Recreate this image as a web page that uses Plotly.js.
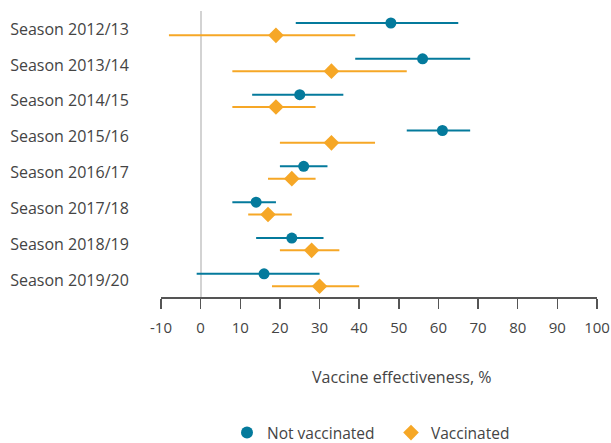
<!DOCTYPE html>
<html>
<head>
<meta charset="utf-8">
<script src="https://cdn.plot.ly/plotly-3.0.1.min.js"></script>
<style>html,body{margin:0;padding:0;background:#fff;}#chart{width:611px;height:443px;}</style>
</head>
<body>
<div id="chart"></div>
<script>
const seasons = ["Season 2012/13","Season 2013/14","Season 2014/15","Season 2015/16","Season 2016/17","Season 2017/18","Season 2018/19","Season 2019/20"];
const notVaccEst  = [48, 56, 25, 61, 26, 14, 23, 16];
const notVaccLow  = [24, 39, 13, 52, 20, 8, 14, -1];
const notVaccHigh = [65, 68, 36, 68, 32, 19, 31, 30];
const vaccEst  = [19, 33, 19, 33, 23, 17, 28, 30];
const vaccLow  = [-8, 8, 8, 20, 17, 12, 20, 18];
const vaccHigh = [39, 52, 29, 44, 29, 23, 35, 40];
const xTicks = [-10,0,10,20,30,40,50,60,70,80,90,100];

const teal = "#047a9c", orange = "#f6a726";
const off = 0.172;
const idx = seasons.map((s,i)=>i);

function trace(name, est, lo, hi, shift, color, symbol, size){
  return {
    type: "scatter", mode: "markers", name: name,
    x: est, y: idx.map(i=>i+shift),
    marker: {color: color, symbol: symbol, size: size, line:{width:0}},
    error_x: {type:"data", symmetric:false,
      array: est.map((v,i)=>hi[i]-v), arrayminus: est.map((v,i)=>v-lo[i]),
      color: color, thickness: 2, width: 0},
    hoverinfo: "x+name"
  };
}

const data = [
  trace("Not vaccinated", notVaccEst, notVaccLow, notVaccHigh, -off, teal, "circle", 11),
  trace("Vaccinated", vaccEst, vaccLow, vaccHigh, off, orange, "diamond", 12)
];

const fam = "Open Sans, Noto Sans, sans-serif";

const layout = {
  width: 611, height: 443,
  margin: {l: 161, r: 14, t: 11, b: 146},
  paper_bgcolor: "#fff", plot_bgcolor: "#fff",
  font: {family: fam, color: "#444", size: 14},
  showlegend: true,
  legend: {orientation: "h", xref: "container", yref: "container",
           x: 227/611, xanchor: "left", y: (443-433)/443, yanchor: "middle",
           entrywidth: 119, entrywidthmode: "pixels",
           font: {family: fam, size: 15.5, color: "#444"}, itemsizing: "constant", traceorder: "normal"},
  xaxis: {
    range: [-10, 100], tickvals: xTicks, ticktext: xTicks.map(String),
    showgrid: false, zeroline: true, zerolinecolor: "#d3d3d3", zerolinewidth: 2,
    showline: true, linecolor: "#555", linewidth: 1.5,
    ticks: "outside", ticklen: 10, tickwidth: 1.5, tickcolor: "#555",
    ticklabelstandoff: 6,
    tickfont: {family: fam, size: 15, color: "#444"}, fixedrange: true, automargin: false
  },
  yaxis: {
    range: [7.474, -0.507], tickvals: idx, ticktext: seasons,
    showgrid: false, zeroline: false, showline: false,
    ticks: "outside", ticklen: 28, tickcolor: "rgba(0,0,0,0)",
    tickfont: {family: fam, size: 16, color: "#444"}, fixedrange: true, automargin: false
  },
  annotations: [{
    text: "Vaccine effectiveness, %", xref: "paper", yref: "paper",
    x: (401.5-161)/436, y: (297-377)/286, xanchor: "center", yanchor: "middle",
    showarrow: false, font: {family: fam, size: 16, color: "#444"}
  }]
};

Plotly.newPlot("chart", data, layout, {displayModeBar: false, staticPlot: true});
</script>
</body>
</html>
